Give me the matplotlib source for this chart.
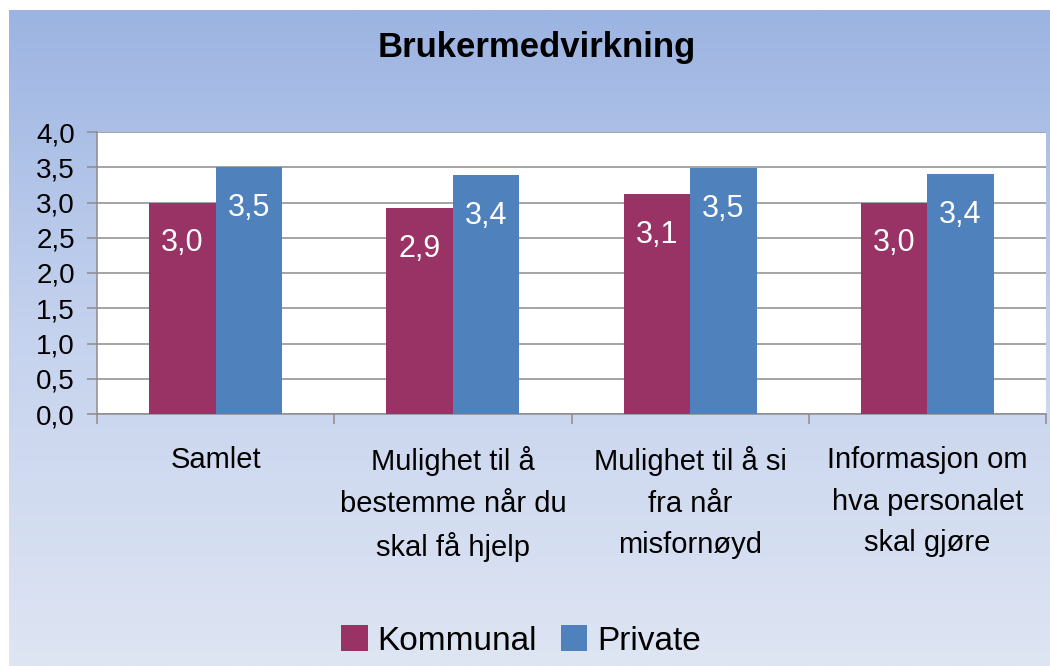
import numpy as np
import matplotlib
matplotlib.use('Agg')
import matplotlib.pyplot as plt
from matplotlib.colors import LinearSegmentedColormap
from matplotlib.ticker import FuncFormatter, FixedLocator

plt.rcParams['font.family'] = ['Liberation Sans', 'DejaVu Sans']

# Data
categories = ['Samlet',
              'Mulighet til å\nbestemme når du\nskal få hjelp',
              'Mulighet til å si\nfra når\nmisfornøyd',
              'Informasjon om\nhva personalet\nskal gjøre']
kommunal = [3.0, 2.92, 3.12, 3.0]
private = [3.5, 3.39, 3.49, 3.4]
series_names = ['Kommunal', 'Private']
title = 'Brukermedvirkning'

col_kom = '#993366'
col_pri = '#4f81bd'

W, H = 1050, 666
fig = plt.figure(figsize=(W / 100, H / 100), dpi=100, facecolor='white')

# gradient background panel
bg = fig.add_axes([9 / W, 0, 1 - 9 / W, 1 - 10 / H], zorder=-1)
grad_cmap = LinearSegmentedColormap.from_list('bg', ['#9cb4e2', '#c6d3ee', '#dee5f3'])
bg.imshow(np.linspace(0, 1, 256).reshape(-1, 1), aspect='auto', cmap=grad_cmap,
          extent=[0, 1, 0, 1], origin='upper')
bg.axis('off')

# main plot
left, right, top, bottom = 97, 1046, 132, 414
ax = fig.add_axes([left / W, 1 - bottom / H, (right - left) / W, (bottom - top) / H])
ax.set_facecolor('white')

x = np.arange(len(categories))
w = 0.28
b1 = ax.bar(x - w / 2, kommunal, w, color=col_kom, label=series_names[0], zorder=3)
b2 = ax.bar(x + w / 2, private, w, color=col_pri, label=series_names[1], zorder=3)

for bars, vals in [(b1, kommunal), (b2, private)]:
    for rect, v in zip(bars, vals):
        ax.annotate(f"{v:.1f}".replace('.', ','),
                    xy=(rect.get_x() + rect.get_width() / 2, v),
                    xytext=(0, -29.5), textcoords='offset points',
                    ha='center', va='center', color='white', fontsize=22, zorder=4)

ax.set_xlim(-0.5, 3.5)
ax.set_ylim(0, 4)
ax.set_yticks(np.arange(0, 4.01, 0.5))
ax.yaxis.set_major_formatter(FuncFormatter(lambda v, p: f"{v:.1f}".replace('.', ',')))
ax.grid(axis='y', color='#8c8c8c', linewidth=1.1, zorder=1)
ax.set_axisbelow(True)

ax.set_xticks(x)
ax.set_xticklabels(categories, fontsize=21)
for lbl in ax.get_xticklabels():
    lbl.set_linespacing(1.62)
ax.tick_params(axis='x', which='major', length=0, pad=23)
ax.xaxis.set_minor_locator(FixedLocator(np.arange(-0.5, 3.6, 1.0)))
ax.tick_params(axis='x', which='minor', length=7, color='#8c8c8c', width=1.1, direction='out')
ax.tick_params(axis='y', length=7, color='#8c8c8c', width=1.1, pad=9, labelsize=20)

for s in ['top', 'right']:
    ax.spines[s].set_visible(False)
for s in ['left', 'bottom']:
    ax.spines[s].set_color('#8c8c8c')
    ax.spines[s].set_linewidth(1.1)

fig.text(537 / W, 1 - 48 / H, title, ha='center', va='center', fontsize=25, fontweight='bold')

fig.legend(handles=[b1, b2], labels=series_names, loc='center', bbox_to_anchor=(521 / W, 1 - 641 / H),
           ncol=2, frameon=False, fontsize=24, handlelength=0.8, handleheight=0.8,
           handletextpad=0.3, columnspacing=0.7)

fig.savefig('out.png', dpi=100, facecolor='white')
